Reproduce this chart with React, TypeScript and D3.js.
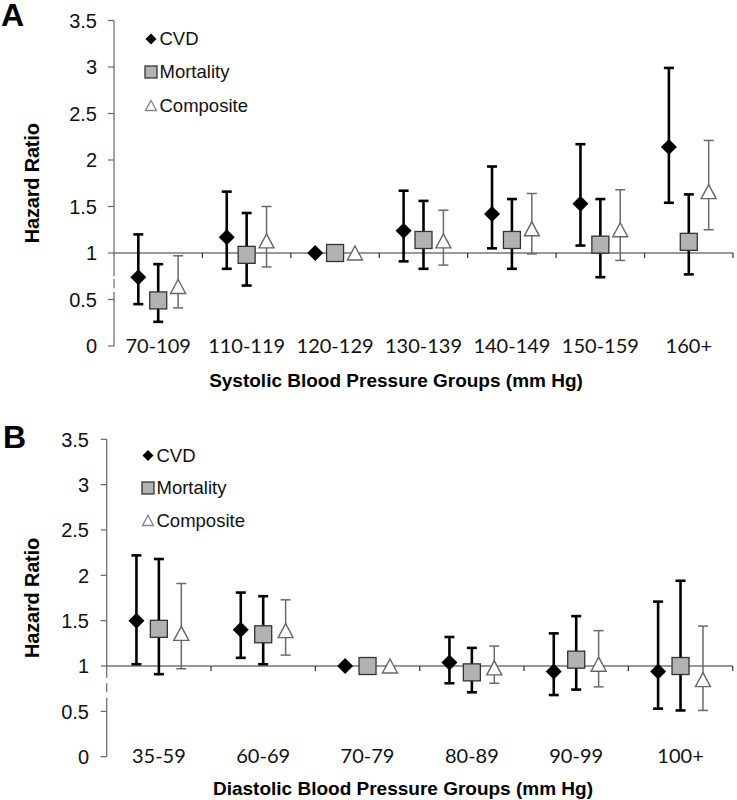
import React from "react";
import * as d3 from "d3";

const sbpGroups = ["70-109", "110-119", "120-129", "130-139", "140-149", "150-159", "160+"];
const sbpCvd = [0.74, 1.17, 1.0, 1.24, 1.42, 1.53, 2.14];
const sbpCvdLo = [0.45, 0.83, 1.0, 0.91, 1.05, 1.08, 1.54];
const sbpCvdHi = [1.2, 1.66, 1.0, 1.67, 1.93, 2.17, 2.99];
const sbpMort = [0.49, 0.98, 1.0, 1.14, 1.14, 1.09, 1.12];
const sbpMortLo = [0.26, 0.65, 1.0, 0.83, 0.83, 0.74, 0.77];
const sbpMortHi = [0.88, 1.43, 1.0, 1.56, 1.58, 1.58, 1.63];
const sbpComp = [0.64, 1.13, 1.0, 1.13, 1.26, 1.25, 1.66];
const sbpCompLo = [0.41, 0.85, 1.0, 0.87, 0.99, 0.92, 1.25];
const sbpCompHi = [0.97, 1.5, 1.0, 1.46, 1.64, 1.68, 2.21];

const dbpGroups = ["35-59", "60-69", "70-79", "80-89", "90-99", "100+"];
const dbpCvd = [1.5, 1.4, 1.0, 1.04, 0.94, 0.94];
const dbpCvdLo = [1.02, 1.09, 1.0, 0.81, 0.68, 0.53];
const dbpCvdHi = [2.22, 1.81, 1.0, 1.32, 1.36, 1.71];
const dbpMort = [1.41, 1.35, 1.0, 0.93, 1.07, 1.0];
const dbpMortLo = [0.91, 1.02, 1.0, 0.71, 0.74, 0.51];
const dbpMortHi = [2.18, 1.77, 1.0, 1.2, 1.55, 1.94];
const dbpComp = [1.36, 1.39, 1.0, 0.98, 1.02, 0.85];
const dbpCompLo = [0.97, 1.12, 1.0, 0.81, 0.77, 0.51];
const dbpCompHi = [1.91, 1.73, 1.0, 1.22, 1.39, 1.44];

const yTicks = [0, 0.5, 1, 1.5, 2, 2.5, 3, 3.5];
const seriesNames = ["CVD", "Mortality", "Composite"];

const ARIAL = "'Liberation Sans', Arial, sans-serif";
const CAT_FONT = "Lato, 'Open Sans', sans-serif";

type Series = { v: number[]; lo: number[]; hi: number[] };

function Marker({ kind, x, y, legend }: { kind: number; x: number; y: number; legend?: boolean }) {
  if (kind === 0) {
    const r = legend ? 5.5 : 8;
    return <path d={`M${x},${y - r}L${x + r},${y}L${x},${y + r}L${x - r},${y}Z`} fill="#000" />;
  }
  if (kind === 1) {
    const h = legend ? 6 : 8.5;
    return <rect x={x - h} y={y - h} width={2 * h} height={2 * h} fill="#b2b2b2" stroke="#333" strokeWidth={1.3} />;
  }
  const w = legend ? 5.5 : 7.5;
  const h = legend ? 10 : 14;
  return (
    <path
      d={`M${x},${y - h / 2}L${x + w},${y + h / 2}L${x - w},${y + h / 2}Z`}
      fill="#fff"
      stroke={legend ? "#888" : "#666"}
      strokeWidth={1.4}
    />
  );
}

function Panel(props: {
  letter: string;
  letterX: number;
  letterY: number;
  groups: string[];
  series: Series[];
  x0: number;
  x1: number;
  yTop: number;
  yBottom: number;
  tickLabelX: number;
  catLabelY: number;
  title: string;
  titleX: number;
  titleY: number;
  yLabelX: number;
  legendX: number;
  legendY: number[];
  offset: number;
  gaps: number[][];
}) {
  const p = props;
  const x = d3.scaleBand<string>().domain(p.groups).range([p.x0, p.x1]).padding(0);
  const y = d3.scaleLinear().domain([0, 3.5]).range([p.yBottom, p.yTop]);
  const bw = x.bandwidth();
  const offs = [-p.offset * bw, 0, p.offset * bw];
  const y1 = y(1);
  const axisSegs: number[][] = [];
  let start = p.yTop;
  const gapsPx = p.gaps.map((g) => [y(g[0]), y(g[1])]).sort((a, b) => a[1] - b[1]);
  gapsPx.forEach((g) => {
    axisSegs.push([start, g[1]]);
    start = g[0];
  });
  axisSegs.push([start, p.yBottom]);

  return (
    <g>
      <text x={p.letterX} y={p.letterY} fontFamily={ARIAL} fontWeight="bold" fontSize={32}>
        {p.letter}
      </text>
      {axisSegs.map((s, i) => (
        <line key={"ax" + i} x1={p.x0} x2={p.x0} y1={s[0]} y2={s[1]} stroke="#666" strokeWidth={1.2} />
      ))}
      {yTicks.map((t) => (
        <g key={"yt" + t}>
          <line x1={p.x0 - 6} x2={p.x0} y1={y(t)} y2={y(t)} stroke="#666" strokeWidth={1.2} />
          <text
            x={p.tickLabelX}
            y={y(t)}
            dy="0.36em"
            textAnchor="end"
            fontFamily={ARIAL}
            fontSize={20}
            fill="#111"
          >
            {String(t)}
          </text>
        </g>
      ))}
      <line x1={p.x0} x2={p.x1} y1={y1} y2={y1} stroke="#333" strokeWidth={1.2} />
      {p.groups.map((g) => (
        <line key={"xt" + g} x1={(x(g) as number) + bw} x2={(x(g) as number) + bw} y1={y1} y2={y1 + 5} stroke="#333" strokeWidth={1.2} />
      ))}
      {p.groups.map((g) => (
        <text
          key={"xl" + g}
          x={(x(g) as number) + bw / 2}
          y={p.catLabelY}
          textAnchor="middle"
          fontFamily={CAT_FONT}
          fontSize={20}
          fill="#111"
        >
          {g}
        </text>
      ))}
      <text
        transform={`translate(${p.yLabelX},${(p.yTop + p.yBottom) / 2}) rotate(-90)`}
        textAnchor="middle"
        fontFamily={ARIAL}
        fontWeight="bold"
        fontSize={20}
        letterSpacing={-0.2}
      >
        Hazard Ratio
      </text>
      <text x={p.titleX} y={p.titleY} textAnchor="middle" fontFamily={ARIAL} fontWeight="bold" fontSize={19}>
        {p.title}
      </text>
      {p.series.map((s, si) =>
        p.groups.map((g, gi) => {
          const cx = (x(g) as number) + bw / 2 + offs[si];
          const comp = si === 2;
          const stroke = comp ? "#6a6a6a" : "#000";
          const sw = comp ? 1.5 : 2.6;
          const cap = 5;
          const hasBar = s.hi[gi] !== s.lo[gi];
          return (
            <g key={"m" + si + "-" + gi}>
              {hasBar && (
                <g stroke={stroke} strokeWidth={sw}>
                  <line x1={cx} x2={cx} y1={y(s.hi[gi])} y2={y(s.lo[gi])} />
                  <line x1={cx - cap} x2={cx + cap} y1={y(s.hi[gi])} y2={y(s.hi[gi])} />
                  <line x1={cx - cap} x2={cx + cap} y1={y(s.lo[gi])} y2={y(s.lo[gi])} />
                </g>
              )}
              <Marker kind={si} x={cx} y={y(s.v[gi])} />
            </g>
          );
        })
      )}
      {seriesNames.map((n, i) => (
        <g key={"lg" + n}>
          <Marker kind={i} x={p.legendX} y={p.legendY[i] - 6} legend />
          <text x={p.legendX + 8.5} y={p.legendY[i]} fontFamily={ARIAL} fontSize={18.5} fill="#111">
            {n}
          </text>
        </g>
      ))}
    </g>
  );
}

export default function App() {
  const sbp: Series[] = [
    { v: sbpCvd, lo: sbpCvdLo, hi: sbpCvdHi },
    { v: sbpMort, lo: sbpMortLo, hi: sbpMortHi },
    { v: sbpComp, lo: sbpCompLo, hi: sbpCompHi },
  ];
  const dbp: Series[] = [
    { v: dbpCvd, lo: dbpCvdLo, hi: dbpCvdHi },
    { v: dbpMort, lo: dbpMortLo, hi: dbpMortHi },
    { v: dbpComp, lo: dbpCompLo, hi: dbpCompHi },
  ];
  return (
    <svg width={737} height={800} style={{ position: "absolute", left: 0, top: 0, background: "#fff" }}>
      <rect x={0} y={0} width={737} height={800} fill="#fff" />
      <Panel
        letter="A"
        letterX={1}
        letterY={26}
        groups={sbpGroups}
        series={sbp}
        x0={114}
        x1={733}
        yTop={20.5}
        yBottom={346}
        tickLabelX={97}
        catLabelY={353}
        title="Systolic Blood Pressure Groups (mm Hg)"
        titleX={396}
        titleY={387}
        yLabelX={39}
        legendX={151}
        legendY={[45, 78, 111.5]}
        offset={0.225}
        gaps={[[0.72, 0.75], [0.58, 0.62]]}
      />
      <Panel
        letter="B"
        letterX={3}
        letterY={448}
        groups={dbpGroups}
        series={dbp}
        x0={106.7}
        x1={732.7}
        yTop={439.3}
        yBottom={756.7}
        tickLabelX={89}
        catLabelY={763}
        title="Diastolic Blood Pressure Groups (mm Hg)"
        titleX={403}
        titleY={795}
        yLabelX={39}
        legendX={148}
        legendY={[461.5, 494, 526.5]}
        offset={0.215}
        gaps={[[0.81, 0.87], [0.65, 0.71]]}
      />
    </svg>
  );
}
